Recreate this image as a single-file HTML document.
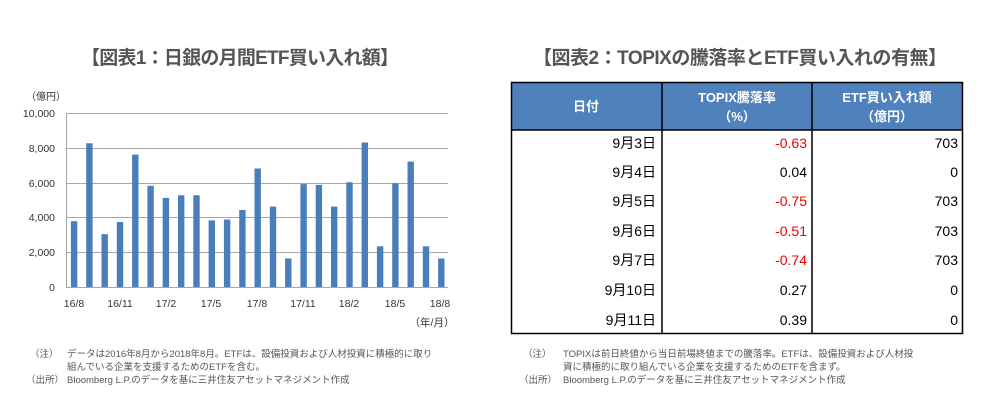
<!DOCTYPE html>
<html><head><meta charset="utf-8"><style>
body{margin:0;background:#fff;width:981px;height:408px;overflow:hidden}
svg{display:block}
text{font-family:"Liberation Sans","Noto Sans CJK JP",sans-serif}
</style></head><body>
<svg width="981" height="408" xmlns="http://www.w3.org/2000/svg">
<text x="240" y="64" text-anchor="middle" font-size="19" font-weight="bold" fill="#555" textLength="318" lengthAdjust="spacing">【図表1：日銀の月間ETF買い入れ額】</text>
<text x="740" y="64" text-anchor="middle" font-size="19" font-weight="bold" fill="#555" textLength="414" lengthAdjust="spacing">【図表2：TOPIXの騰落率とETF買い入れの有無】</text>
<text x="26" y="100" font-size="10" fill="#333">（億円）</text>
<g stroke="#a6a6a6" stroke-width="1">
<line x1="66" y1="113.5" x2="448" y2="113.5"/>
<line x1="66" y1="148.5" x2="448" y2="148.5"/>
<line x1="66" y1="183.5" x2="448" y2="183.5"/>
<line x1="66" y1="217.5" x2="448" y2="217.5"/>
<line x1="66" y1="252.5" x2="448" y2="252.5"/>
<line x1="66" y1="287.5" x2="448" y2="287.5"/>
<line x1="66.5" y1="113" x2="66.5" y2="287"/>
</g>
<g font-size="10.5" fill="#333" text-anchor="end">
<text x="55" y="117">10,000</text><text x="55" y="152">8,000</text><text x="55" y="187">6,000</text><text x="55" y="221">4,000</text><text x="55" y="256">2,000</text><text x="55" y="291">0</text>
</g>
<g font-size="10.5" fill="#333" text-anchor="middle">
<text x="74" y="307">16/8</text><text x="120" y="307">16/11</text><text x="166" y="307">17/2</text><text x="211" y="307">17/5</text><text x="257" y="307">17/8</text><text x="303" y="307">17/11</text><text x="349" y="307">18/2</text><text x="395" y="307">18/5</text><text x="440" y="307">18/8</text>
<text x="432" y="326">（年/月）</text>
</g>
<g font-size="9.5" fill="#555">
<text x="30" y="357">（注）</text><text x="67" y="357">データは2016年8月から2018年8月。ETFは、設備投資および人材投資に積極的に取り</text>
<text x="67" y="370">組んでいる企業を支援するためのETFを含む。</text>
<text x="26" y="383">（出所）</text><text x="67" y="383">Bloomberg L.P.のデータを基に三井住友アセットマネジメント作成</text>
<text x="523" y="357">（注）</text><text x="563" y="357">TOPIXは前日終値から当日前場終値までの騰落率。ETFは、設備投資および人材投</text>
<text x="563" y="370">資に積極的に取り組んでいる企業を支援するためのETFを含まず。</text>
<text x="519" y="383">（出所）</text><text x="563" y="383">Bloomberg L.P.のデータを基に三井住友アセットマネジメント作成</text>
</g>
<rect x="511" y="82" width="452" height="48" fill="#4f81bd"/>
<rect x="511.5" y="82.5" width="451" height="251" fill="none" stroke="#000" stroke-width="1.5"/>
<line x1="511" y1="130" x2="963" y2="130" stroke="#000" stroke-width="1.5"/>
<line x1="662" y1="82" x2="662" y2="334" stroke="#000" stroke-width="1.5"/>
<line x1="812" y1="82" x2="812" y2="334" stroke="#000" stroke-width="1.5"/>
<g font-size="13" font-weight="bold" fill="#fff" text-anchor="middle">
<text x="586" y="111">日付</text>
<text x="737" y="102">TOPIX騰落率</text><text x="737" y="121">（%）</text>
<text x="887" y="102">ETF買い入れ額</text><text x="887" y="121">（億円）</text>
</g>
<g font-size="14" fill="#000" text-anchor="end">
<text x="656" y="148">9月3日</text><text x="807" y="148" fill="#e00">-0.63</text><text x="958" y="148">703</text>
<text x="656" y="177">9月4日</text><text x="807" y="177">0.04</text><text x="958" y="177">0</text>
<text x="656" y="206">9月5日</text><text x="807" y="206" fill="#e00">-0.75</text><text x="958" y="206">703</text>
<text x="656" y="236">9月6日</text><text x="807" y="236" fill="#e00">-0.51</text><text x="958" y="236">703</text>
<text x="656" y="265">9月7日</text><text x="807" y="265" fill="#e00">-0.74</text><text x="958" y="265">703</text>
<text x="656" y="295">9月10日</text><text x="807" y="295">0.27</text><text x="958" y="295">0</text>
<text x="656" y="325">9月11日</text><text x="807" y="325">0.39</text><text x="958" y="325">0</text>
</g>
<g fill="#4a7ebb">
<rect x="70.9" y="221.2" width="6.4" height="65.8"/>
<rect x="86.2" y="143.3" width="6.4" height="143.7"/>
<rect x="101.5" y="234.2" width="6.4" height="52.8"/>
<rect x="116.8" y="222.1" width="6.4" height="64.9"/>
<rect x="132.1" y="154.6" width="6.4" height="132.4"/>
<rect x="147.4" y="185.8" width="6.4" height="101.2"/>
<rect x="162.7" y="197.9" width="6.4" height="89.1"/>
<rect x="178.0" y="195.3" width="6.4" height="91.7"/>
<rect x="193.3" y="195.3" width="6.4" height="91.7"/>
<rect x="208.6" y="220.4" width="6.4" height="66.6"/>
<rect x="223.9" y="219.5" width="6.4" height="67.5"/>
<rect x="239.2" y="210.0" width="6.4" height="77.0"/>
<rect x="254.5" y="168.5" width="6.4" height="118.5"/>
<rect x="269.8" y="206.6" width="6.4" height="80.4"/>
<rect x="285.1" y="258.5" width="6.4" height="28.5"/>
<rect x="300.4" y="184.1" width="6.4" height="102.9"/>
<rect x="315.7" y="184.9" width="6.4" height="102.1"/>
<rect x="331.0" y="206.6" width="6.4" height="80.4"/>
<rect x="346.3" y="182.3" width="6.4" height="104.7"/>
<rect x="361.6" y="142.5" width="6.4" height="144.5"/>
<rect x="376.9" y="246.3" width="6.4" height="40.7"/>
<rect x="392.2" y="183.2" width="6.4" height="103.8"/>
<rect x="407.5" y="161.6" width="6.4" height="125.4"/>
<rect x="422.8" y="246.3" width="6.4" height="40.7"/>
<rect x="438.1" y="258.5" width="6.4" height="28.5"/>
</g>
</svg>
</body></html>
